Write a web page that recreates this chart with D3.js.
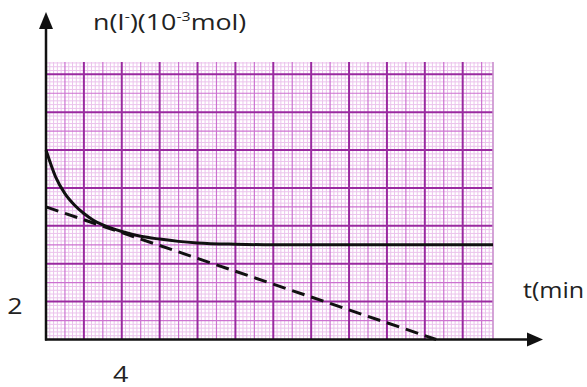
<!DOCTYPE html>
<html>
<head>
<meta charset="utf-8">
<script src="https://cdn.jsdelivr.net/npm/d3@7"></script>
<style>
  body { margin: 0; background: #fff; }
  text { font-family: "Open Sans", sans-serif; fill: #222; }
</style>
</head>
<body>
<div id="chart"></div>
<script>
// data (t in min, n in 10^-3 mol)
const timeValues = [0, 0.5, 1, 1.5, 2, 2.5, 3, 4, 5, 6, 7, 8, 10, 12, 16, 20, 23.6];
const amountValues = [10, 8.6, 7.7, 7.1, 6.65, 6.3, 6.05, 5.7, 5.45, 5.3, 5.18, 5.1, 5.03, 5.0, 5.0, 5.0, 5.0];
// tangent at t = 0 (dashed)
const tangentTime = [0, 20.6];
const tangentAmount = [7, 0];
const yTickLabels = [2];
const xTickLabels = [4];
const xTitle = "t(min";

const W = 587, H = 387;

const svg = d3.select("#chart")
  .append("svg")
    .attr("width", W)
    .attr("height", H);

// scales: one major square = 2 units = 37.9 px
const x = d3.scaleLinear().domain([0, 23.6]).range([46, 493]);
const y = d3.scaleLinear().domain([0, 14.65]).range([339.5, 62]);

const eps = 1e-6;
const xMinor = d3.range(0, 23.6 + eps, 0.2);
const yMinor = d3.range(0, 14.6 + eps, 0.2);

function level(v) {
  const r = Math.round(v * 5);
  if (r % 10 === 0) return 2;
  if (r % 5 === 0) return 1;
  return 0;
}
const gridColor = ["#ebc3ec", "#cc72d0", "#9a2aa0"];
const gridWidth = [1, 1.2, 2];

const grid = svg.append("g");

// minor first, then medium, then major on top
[0, 1, 2].forEach(lv => {
  grid.selectAll(null)
    .data(xMinor.filter(d => level(d) === lv && d > 0))
    .enter().append("line")
      .attr("x1", d => x(d)).attr("x2", d => x(d))
      .attr("y1", y.range()[0]).attr("y2", y.range()[1])
      .attr("stroke", gridColor[lv])
      .attr("stroke-width", gridWidth[lv]);
  grid.selectAll(null)
    .data(yMinor.filter(d => level(d) === lv && d > 0))
    .enter().append("line")
      .attr("x1", x.range()[0]).attr("x2", x.range()[1])
      .attr("y1", d => y(d)).attr("y2", d => y(d))
      .attr("stroke", gridColor[lv])
      .attr("stroke-width", gridWidth[lv]);
});

// right border of the paper
grid.append("line")
  .attr("x1", x(23.6)).attr("x2", x(23.6))
  .attr("y1", y.range()[0]).attr("y2", y.range()[1])
  .attr("stroke", "#c98fcc")
  .attr("stroke-width", 1.5);

// curves
const pts = timeValues.map((t, i) => [t, amountValues[i]]);
const line = d3.line()
  .x(d => x(d[0]))
  .y(d => y(d[1]))
  .curve(d3.curveMonotoneX);

svg.append("path")
  .datum(tangentTime.map((t, i) => [t, tangentAmount[i]]))
  .attr("d", d3.line().x(d => x(d[0])).y(d => y(d[1])))
  .attr("fill", "none")
  .attr("stroke", "#111")
  .attr("stroke-width", 3)
  .attr("stroke-dasharray", "13,7");

svg.append("path")
  .datum(pts)
  .attr("d", line)
  .attr("fill", "none")
  .attr("stroke", "#111")
  .attr("stroke-width", 3);

// axes with arrows
const ax = svg.append("g");
ax.append("line")
  .attr("x1", x(0)).attr("x2", x(0))
  .attr("y1", y(0) + 1).attr("y2", 26)
  .attr("stroke", "#111").attr("stroke-width", 2.5);
ax.append("path")
  .attr("d", `M${x(0)},12 L${x(0) - 7},29 L${x(0) + 7},29 Z`)
  .attr("fill", "#111");

ax.append("line")
  .attr("x1", x(0) - 1).attr("x2", 530)
  .attr("y1", y(0)).attr("y2", y(0))
  .attr("stroke", "#111").attr("stroke-width", 2.5);
ax.append("path")
  .attr("d", `M543,${y(0)} L527,${y(0) - 7} L527,${y(0) + 7} Z`)
  .attr("fill", "#111");

// labels (picture is stretched horizontally)
const sx = 1.22;

const ty = svg.append("text")
  .attr("transform", `translate(93,30) scale(${sx},1)`)
  .attr("font-size", 22);
ty.append("tspan").text("n(I");
ty.append("tspan").attr("font-size", 13).attr("dy", -9).text("-");
ty.append("tspan").attr("dy", 9).text(")(10");
ty.append("tspan").attr("font-size", 13).attr("dy", -9).text("-3");
ty.append("tspan").attr("dy", 9).text("mol)");

svg.append("text")
  .attr("transform", `translate(523,298) scale(1.14,1)`)
  .attr("font-size", 22)
  .text(xTitle);

svg.selectAll(null)
  .data(yTickLabels)
  .enter().append("text")
    .attr("transform", d => `translate(15,${y(d) + 12}) scale(${sx},1)`)
    .attr("text-anchor", "middle")
    .attr("font-size", 22)
    .text(d => d);

svg.selectAll(null)
  .data(xTickLabels)
  .enter().append("text")
    .attr("transform", d => `translate(${x(d) - 1},382) scale(${sx},1)`)
    .attr("text-anchor", "middle")
    .attr("font-size", 22)
    .text(d => d);
</script>
</body>
</html>
